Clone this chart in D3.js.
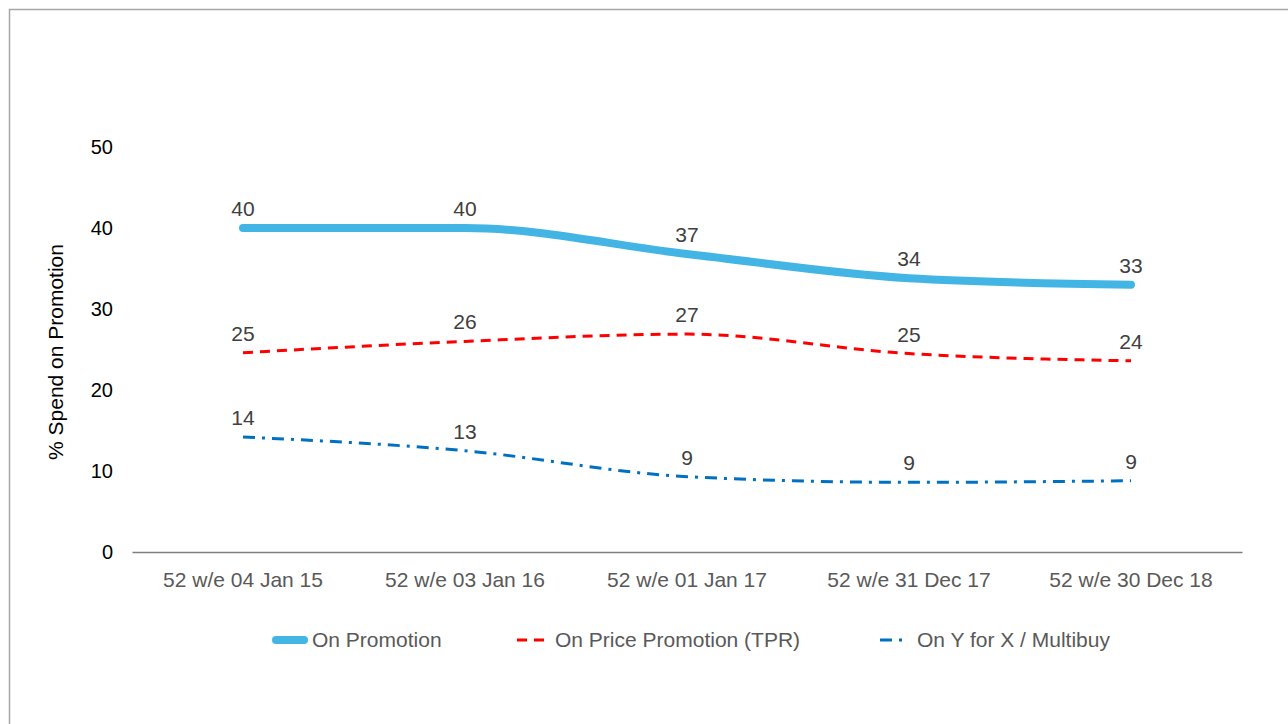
<html>
<head>
<script src="https://d3js.org/d3.v7.min.js"></script>
<style>
  body { margin: 0; background: white; }
  text { font-family: "Liberation Sans", Arial, sans-serif; }
  .frame { fill: none; stroke: #a6a6a6; stroke-width: 1.5px; }
  .label { fill: #404040; font-size: 21px; }
</style>
</head>
<body>
<svg id="chart" width="1288" height="724"></svg>
<script>
// chart data
const periods = ["52 w/e 04 Jan 15", "52 w/e 03 Jan 16", "52 w/e 01 Jan 17", "52 w/e 31 Dec 17", "52 w/e 30 Dec 18"];
const onPromotion = [40.0, 40.0, 36.8, 33.8, 33.0];
const onTPR = [24.6, 26.0, 26.9, 24.5, 23.6];
const onMultibuy = [14.2, 12.5, 9.3, 8.6, 8.8];
const yTicks = [0, 10, 20, 30, 40, 50];

const series = [
  { name: "On Promotion", values: onPromotion, color: "#43b5e4", width: 8, dash: null },
  { name: "On Price Promotion (TPR)", values: onTPR, color: "#ff0000", width: 3, dash: "10,7" },
  { name: "On Y for X / Multibuy", values: onMultibuy, color: "#0070c0", width: 3, dash: "12,7,3,7" }
];

const svg = d3.select("#chart");

// outer frame
svg.append("rect").attr("class", "frame")
  .attr("x", 9.5).attr("y", 9.5).attr("width", 1300).attr("height", 730);

const x = d3.scaleBand().domain(periods).range([132, 1242]);
const y = d3.scaleLinear().domain([0, 50]).range([552, 147]);

// y axis (labels only)
const yAxis = svg.append("g").attr("transform", "translate(113,0)")
  .call(d3.axisLeft(y).tickValues(yTicks).tickSize(0).tickPadding(0));
yAxis.select(".domain").remove();
yAxis.selectAll("text").attr("font-size", 20).attr("fill", "#000")
  .attr("font-family", "Liberation Sans, Arial, sans-serif");

// x axis
const xAxis = svg.append("g").attr("transform", "translate(0,552)")
  .call(d3.axisBottom(x).tickSize(0).tickPadding(20));
xAxis.select(".domain").attr("stroke", "#7f7f7f").attr("stroke-width", 1.3);
xAxis.selectAll("text").attr("font-size", 21).attr("fill", "#595959")
  .attr("font-family", "Liberation Sans, Arial, sans-serif");

// y title
svg.append("text")
  .attr("transform", "translate(63,352) rotate(-90)")
  .attr("text-anchor", "middle")
  .attr("font-size", 21).attr("fill", "#000")
  .text("% Spend on Promotion");

const cx = d => x(d) + x.bandwidth() / 2;
const line = d3.line()
  .x((d, i) => cx(periods[i]))
  .y(d => y(d))
  .curve(d3.curveMonotoneX);

series.forEach(s => {
  svg.append("path").datum(s.values)
    .attr("d", line)
    .attr("fill", "none")
    .attr("stroke", s.color)
    .attr("stroke-width", s.width)
    .attr("stroke-linecap", s.dash ? "butt" : "round")
    .attr("stroke-dasharray", s.dash);

  svg.selectAll(null).data(s.values).join("text")
    .attr("class", "label")
    .attr("x", (d, i) => cx(periods[i]))
    .attr("y", d => y(d) - 12)
    .attr("text-anchor", "middle")
    .text(d => Math.round(d));
});

// legend
const legendX = [272, 517, 880];
const legend = svg.append("g").attr("transform", "translate(0,640)");
series.forEach((s, i) => {
  const g = legend.append("g").attr("transform", "translate(" + legendX[i] + ",0)");
  const len = i === 0 ? 36 : (i === 1 ? 34 : 26);
  g.append("line")
    .attr("x1", i === 0 ? 4 : 0).attr("x2", i === 0 ? len - 4 : len)
    .attr("stroke", s.color).attr("stroke-width", s.width)
    .attr("stroke-linecap", s.dash ? "butt" : "round")
    .attr("stroke-dasharray", s.dash);
  g.append("text")
    .attr("x", i === 2 ? len + 11 : len + 4).attr("y", 7)
    .attr("font-size", 21).attr("fill", "#595959")
    .text(s.name);
});
</script>
</body>
</html>
